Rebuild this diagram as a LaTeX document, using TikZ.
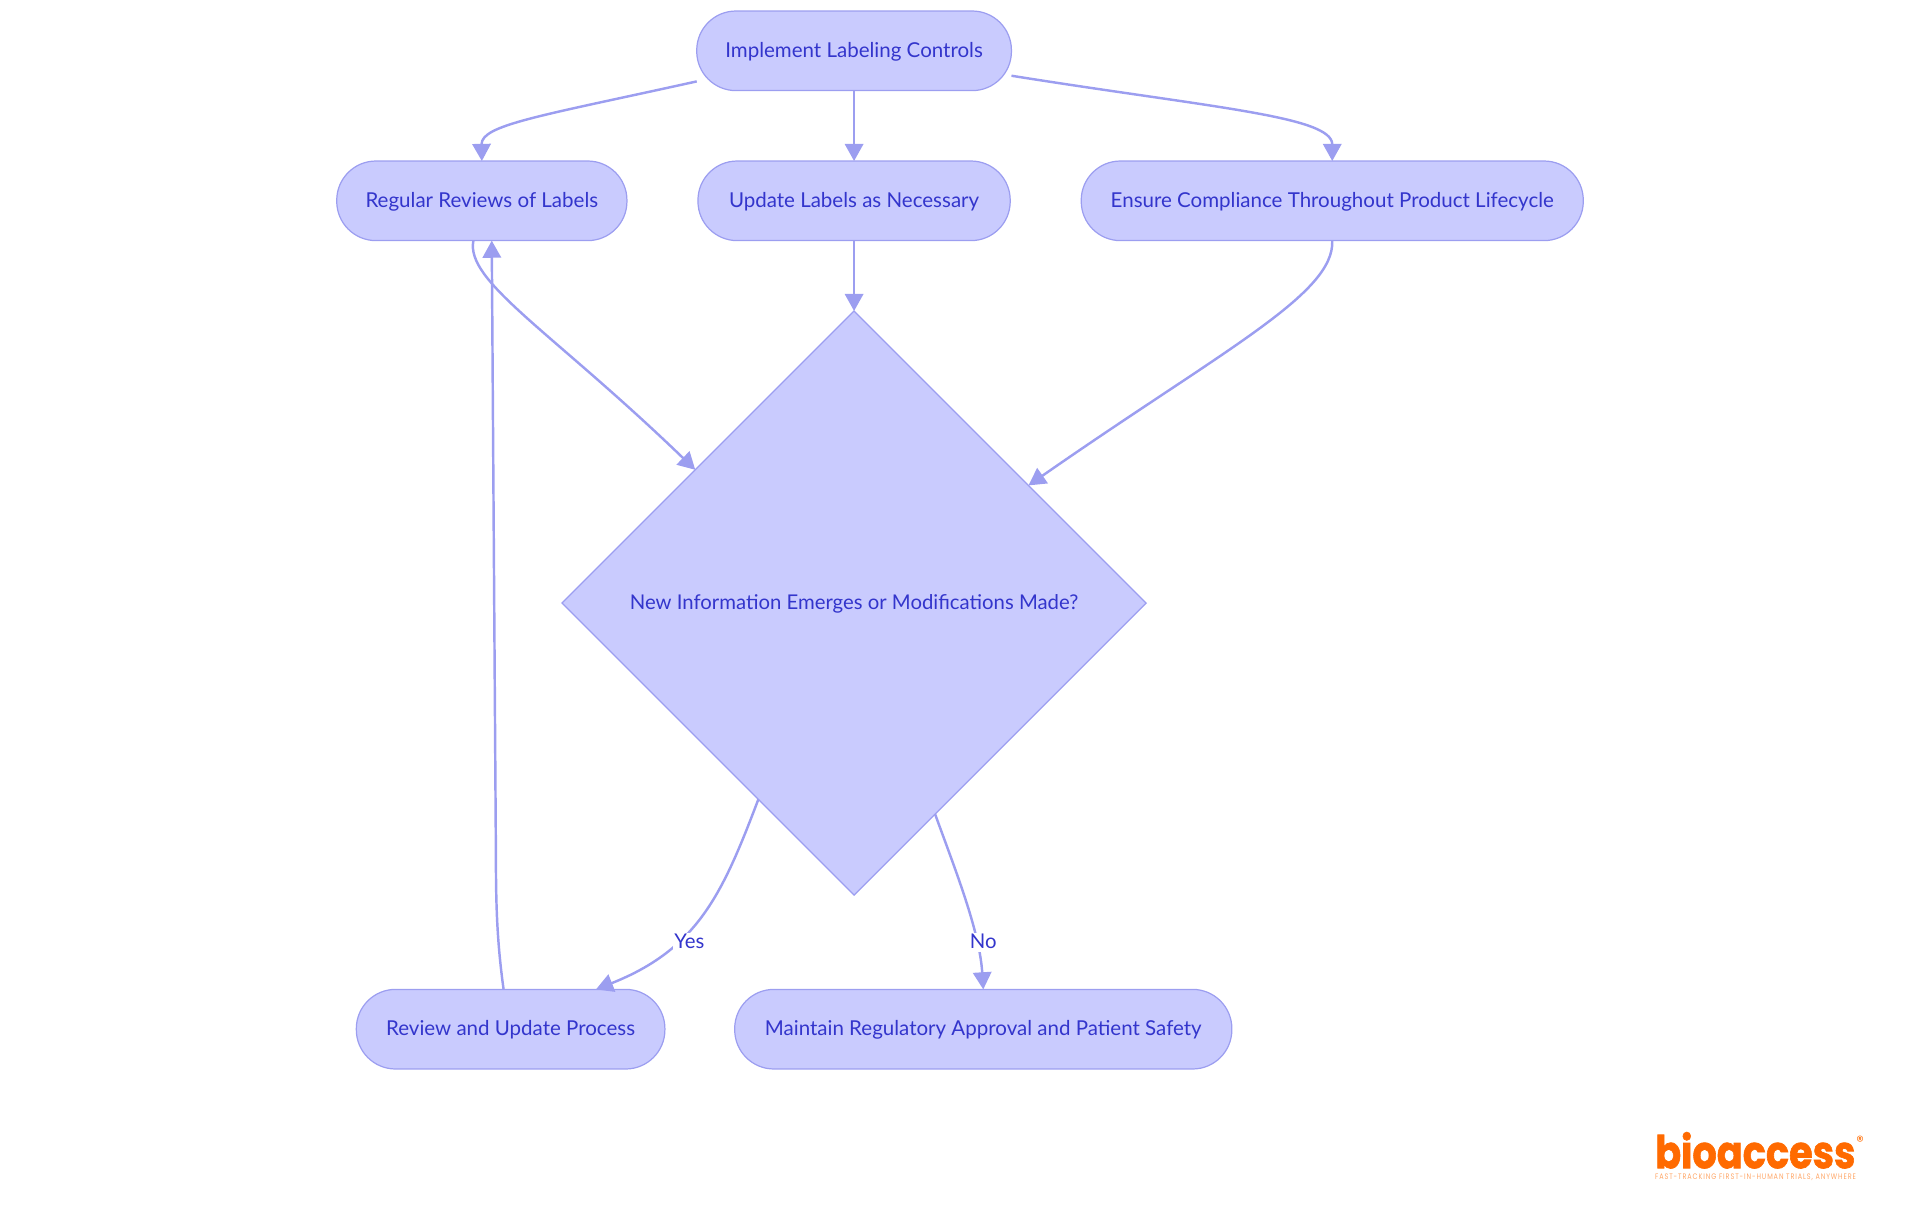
\documentclass[tikz,border=0pt]{standalone}
\usepackage{fontspec}
\setmainfont{Lato}
\newfontfamily\logofont[FakeBold=1.5]{Poppins}
\newfontfamily\regfont{Poppins}
\newfontfamily\tagfont[LetterSpace=14]{Poppins}
\usetikzlibrary{shapes.geometric,arrows.meta}
\definecolor{nodefill}{HTML}{C9CBFE}
\definecolor{nodeline}{HTML}{9C9EF0}
\definecolor{nodetext}{HTML}{3335CC}
\definecolor{logoorange}{HTML}{FF6A00}
\tikzset{
  x=1pt,y=-1pt,
  pill/.style={draw=nodeline,fill=nodefill,text=nodetext,line width=1pt,rounded corners=32pt,
    minimum height=65pt,inner sep=0pt,outer sep=0pt,text height=12pt,text depth=1.5pt,
    font=\fontsize{16.75}{20}\selectfont},
  decision/.style={diamond,draw=nodeline,fill=nodefill,text=nodetext,line width=1pt,aspect=1,
    minimum width=477pt,minimum height=477pt,inner sep=0pt,outer sep=0pt,text height=12pt,text depth=1.5pt,
    font=\fontsize{16.6}{20}\selectfont},
  flow/.style={draw=nodeline,line width=2pt,-{Triangle[length=14pt,width=15pt]}},
  edgelabel/.style={fill=white,text=nodetext,inner sep=1pt,text height=12pt,text depth=1.5pt,
    font=\fontsize{16.6}{20}\selectfont},
}
\begin{document}
\begin{tikzpicture}
\useasboundingbox (0,0) rectangle (1568,992.25);
\node[pill,minimum width=257pt] (top) at (697.5,41.5) {Implement Labeling Controls};
\node[pill,minimum width=237pt] (reg) at (393.5,164) {Regular Reviews of Labels};
\node[pill,minimum width=255pt] (upd) at (697.5,164) {Update Labels as Necessary};
\node[pill,minimum width=410pt] (ens) at (1088,164) {Ensure Compliance Throughout Product Lifecycle};
\node[decision] (dec) at (697.5,492.5) {New Information Emerges or Modifications Made?};
\node[pill,minimum width=252pt] (rev) at (417,840.5) {Review and Update Process};
\node[pill,minimum width=406pt] (mai) at (803,840.5) {Maintain Regulatory Approval and Patient Safety};

\draw[flow] (top.191.4) .. controls (440,95) and (393,102) .. (reg.north);
\draw[flow] (top.south) -- (upd.north);
\draw[flow] (top.351.2) .. controls (990,88) and (1088,95) .. (ens.north);
\draw[flow] (reg.258.5) .. controls (380,230) and (450,270) .. (dec.140);
\draw[flow] (upd.south) -- (dec.north);
\draw[flow] (ens.south) .. controls (1090,240) and (1000,285) .. (dec.34.2);
\draw[flow] (dec.244.4) .. controls (590,730) and (570,775) .. (rev.25.7);
\draw[flow] (dec.291) .. controls (780,710) and (800,760) .. (mai.north);
\draw[flow] (rev.100.5) .. controls (406,770) and (405,740) .. (405,700) -- (reg.284.9);

\node[edgelabel] (yes) at (563,769.5) {Yes};
\node[edgelabel] (no) at (803,769.5) {No};

\node[anchor=base west,inner sep=0pt,text=logoorange] (logo) at (1351.5,954)
  {\resizebox{163.5pt}{29.5pt}{\logofont\bfseries bioaccess}};
\node[text=logoorange,inner sep=0pt,font=\regfont\fontsize{12}{12}\selectfont] (regmark) at (1519,932) {®};
\node[anchor=base west,inner sep=0pt,text=logoorange,opacity=.6] (tag) at (1351.5,963.5)
  {\resizebox{164pt}{4.6pt}{\tagfont FAST-TRACKING FIRST-IN-HUMAN TRIALS, ANYWHERE}};
\end{tikzpicture}
\end{document}
